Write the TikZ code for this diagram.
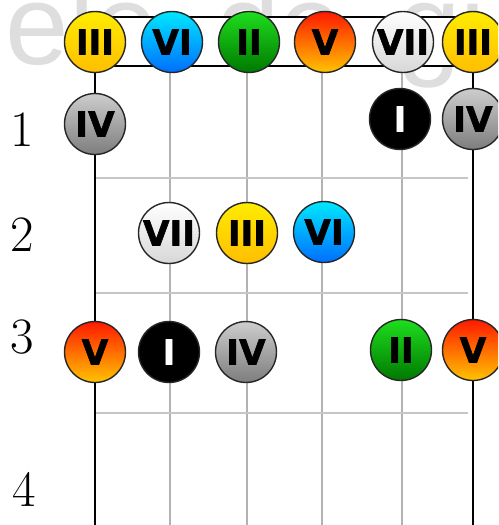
\documentclass[tikz,border=0pt]{standalone}
\usepackage{fontspec}
\newfontfamily\notefont{DejaVu Sans}[BoldFeatures={FakeBold=1.6}]
\newfontfamily\markfont{Liberation Sans}
\definecolor{yeltop}{RGB}{255, 236, 0}
\definecolor{yelbot}{RGB}{255, 190, 0}
\definecolor{bluetop}{RGB}{0, 232, 255}
\definecolor{bluebot}{RGB}{0, 110, 255}
\definecolor{greentop}{RGB}{30, 222, 30}
\definecolor{greenbot}{RGB}{0, 120, 0}
\definecolor{redtop}{RGB}{255, 25, 0}
\definecolor{redmid}{RGB}{255, 110, 20}
\definecolor{redbot}{RGB}{255, 195, 0}
\definecolor{whitebot}{RGB}{215, 215, 215}
\definecolor{graytop}{RGB}{205, 205, 205}
\definecolor{graybot}{RGB}{125, 125, 125}
\definecolor{markgray}{RGB}{222, 222, 222}
\usetikzlibrary{positioning}

\begin{document}
\begin{tikzpicture}[
            x=0.02cm, y=-0.02cm,
            note/.style={circle, minimum size=1.22cm, inner sep=0pt, draw=black!85,
                         line width=0.8pt, font=\notefont\bfseries\fontsize{19.5}{19.5}\selectfont},
            deg1/.style={note, fill=black, text=white},
            deg2/.style={note, top color=greentop, bottom color=greenbot},
            deg3/.style={note, top color=yeltop, bottom color=yelbot},
            deg4/.style={note, top color=graytop, bottom color=graybot},
            deg5/.style={note, top color=redtop, middle color=redmid, bottom color=redbot},
            deg6/.style={note, top color=bluetop, bottom color=bluebot},
            deg7/.style={note, top color=white, bottom color=whitebot},
            wmark/.style={markgray, inner sep=0pt, anchor=base west,
                          font=\markfont\fontsize{65}{65}\selectfont},
            fretnum/.style={inner sep=0pt, font=\fontsize{29}{29}\selectfont},
            thinstring/.style={gray!60, line width=0.6pt},
            thickstring/.style={black, line width=1.4pt},
            fret/.style={gray!45, line width=0.6pt},
            nut/.style={draw=black, fill=white, line width=1.5pt}
          ]
          \clip (0,0) rectangle (498,525);
          % watermark
          \node[wmark] (wm1) at (5.5,64) {ele};
          \node[wmark] (wm2) at (216,64) {de};
          \node[wmark] (wm3) at (397,64) {gu};
          % neck
          \foreach \x in {170,247,322,402}
            \draw[thinstring] (\x,66) -- (\x,525);
          \foreach \y in {178,293,413}
            \draw[fret] (95,\y) -- (468,\y);
          \draw[thickstring] (95,66) -- (95,525);
          \draw[thickstring] (473,66) -- (473,525);
          \draw[nut] (95,17) rectangle (473,66);
          % fret numbers
          \node[fretnum] (f1) at (22,130) {1};
          \node[fretnum] (f2) at (22,235) {2};
          \node[fretnum] (f3) at (22,337) {3};
          \node[fretnum] (f4) at (24,489) {4};
          % open strings
          \node[deg3] (o1) at (95,42)  {III};
          \node[deg6] (o2) at (172,42) {VI};
          \node[deg2] (o3) at (249,42) {II};
          \node[deg5] (o4) at (325,42) {V};
          \node[deg7] (o5) at (403,42) {VII};
          \node[deg3] (o6) at (473,42) {III};
          % fret 1
          \node[deg4] (a1) at (95,124)  {IV};
          \node[deg1] (a5) at (400,119) {I};
          \node[deg4] (a6) at (473,119) {IV};
          % fret 2
          \node[deg7] (b2) at (169,233) {VII};
          \node[deg3] (b3) at (247,233) {III};
          \node[deg6] (b4) at (324,232) {VI};
          % fret 3
          \node[deg5] (c1) at (95,352)  {V};
          \node[deg1] (c2) at (169,352) {I};
          \node[deg4] (c3) at (246,352) {IV};
          \node[deg2] (c5) at (401,350) {II};
          \node[deg5] (c6) at (473,350) {V};
        \end{tikzpicture}
\end{document}
